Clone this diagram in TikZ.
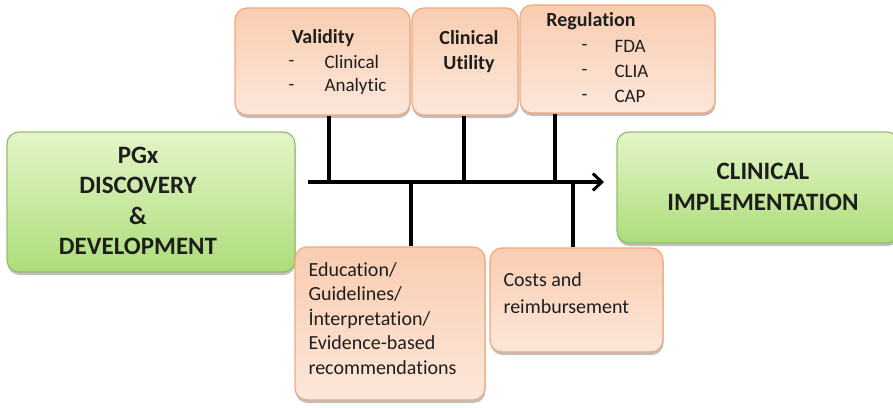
\documentclass[tikz,border=0pt]{standalone}
\usepackage{fontspec}
\setmainfont{Carlito}[Ligatures=NoCommon]
\usetikzlibrary{arrows.meta,shadows}

\definecolor{peachtop}{HTML}{F9CDB1}
\definecolor{peachbot}{HTML}{FCE7DA}
\definecolor{peachline}{HTML}{F0A87C}
\definecolor{greentop}{HTML}{E4F5C8}
\definecolor{greenbot}{HTML}{ADDD7A}
\definecolor{greenline}{HTML}{93BE6E}
\definecolor{inktext}{HTML}{1E1E1E}

\tikzset{
  boxshadow/.style={drop shadow={shadow xshift=0.5pt, shadow yshift=-3pt, opacity=0.45, fill=black!55}},
  peachbox/.style={draw=peachline, line width=1.2pt, rounded corners=12pt,
    top color=peachtop, bottom color=peachbot, boxshadow, inner sep=0pt},
  greenbox/.style={draw=greenline, line width=1.2pt, rounded corners=12pt,
    top color=greentop, bottom color=greenbot, boxshadow, inner sep=0pt},
  link/.style={line width=3.6pt, black},
  bigtext/.style={font=\fontsize{25}{30.5}\selectfont\bfseries, text=inktext, align=center},
  toptext/.style={font=\fontsize{19}{24}\selectfont, text=inktext},
  topbold/.style={font=\fontsize{20}{25}\selectfont\bfseries, text=inktext},
  bottext/.style={font=\fontsize{20}{24.5}\selectfont, text=inktext, align=left},
}

\begin{document}
\begin{tikzpicture}[x=1pt,y=-1pt]
\useasboundingbox[fill=white] (0,0) rectangle (893,407);

% boxes
\node[greenbox, minimum width=288pt, minimum height=140pt] (pgx) at (151,202) {};
\node[greenbox, minimum width=282pt, minimum height=111pt] (impl) at (758,187.5) {};
\node[peachbox, minimum width=175pt, minimum height=107pt] (val) at (322.5,61.5) {};
\node[peachbox, minimum width=106pt, minimum height=107pt] (util) at (465,61.5) {};
\node[peachbox, minimum width=195pt, minimum height=108pt] (reg) at (617.5,59) {};
\node[peachbox, minimum width=190pt, minimum height=153pt] (edu) at (390,323.5) {};
\node[peachbox, minimum width=173pt, minimum height=104pt] (cost) at (576.5,300) {};

% main axis and its branches
\coordinate (axisL) at (308,182);
\coordinate (axisR) at (604,182);
\coordinate (jval) at (329,182);
\coordinate (jutil) at (464,182);
\coordinate (jreg) at (555,182);
\coordinate (jedu) at (411,182);
\coordinate (jcost) at (573,182);

\draw[link] (jval |- val.south) -- (jval);
\draw[link] (jutil |- util.south) -- (jutil);
\draw[link] (jreg |- reg.south) -- (jreg);
\draw[link] (jedu |- edu.north) -- (jedu);
\draw[link] (jcost |- cost.north) -- (jcost);
\draw[link, line cap=butt, -{Straight Barb[length=9pt,width=17pt,line width=3pt]}] (axisL) -- (axisR);

% texts of the green boxes
\node[bigtext] (pgxtext) at (138,201) {PGx\\DISCOVERY\\\&\\DEVELOPMENT};
\node[bigtext] (impltext) at (763,187) {CLINICAL\\IMPLEMENTATION};

% validity
\node[topbold] (valt) at (323,38) {Validity};
\node[toptext, anchor=west] (vd1) at (285,63) {-};
\node[toptext, anchor=west] (vc1) at (321,62) {Clinical};
\node[toptext, anchor=west] (vd2) at (285,87) {-};
\node[toptext, anchor=west] (vc2) at (321,86) {Analytic};

% clinical utility
\node[topbold, align=center] (utilt) at (469,52) {Clinical\\Utility};

% regulation
\node[topbold] (regt) at (591,21) {Regulation};
\node[toptext, anchor=west] (rd1) at (578,47) {-};
\node[toptext, anchor=west] (rc1) at (611,46) {FDA};
\node[toptext, anchor=west] (rd2) at (578,72) {-};
\node[toptext, anchor=west] (rc2) at (611,71) {CLIA};
\node[toptext, anchor=west] (rd3) at (578,97) {-};
\node[toptext, anchor=west] (rc3) at (611,96) {CAP};

% bottom boxes
\node[bottext, anchor=north west] (edut) at (305,259) {Education/\\Guidelines/\\İnterpretation/\\Evidence-based\\recommendations};
\node[bottext, anchor=north west] (costt) at (500,269) {Costs and\\[3pt]reimbursement};
\end{tikzpicture}
\end{document}
